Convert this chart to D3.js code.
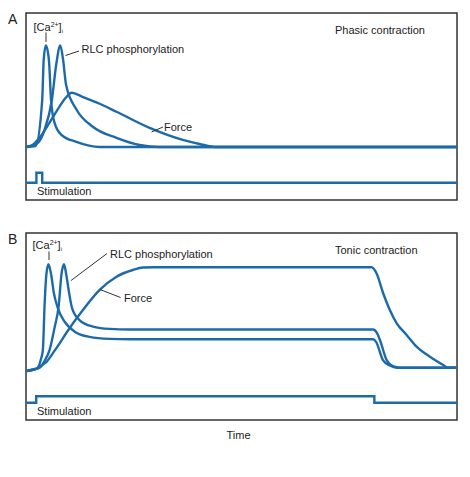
<!DOCTYPE html>
<html>
<head>
<meta charset="utf-8">
<script src="https://cdn.jsdelivr.net/npm/d3@7"></script>
<style>
  body { margin: 0; background: #fff; }
  text { font-family: "Liberation Sans", Arial, sans-serif; fill: #222; }
</style>
</head>
<body>
<div id="my_dataviz"></div>
<script>
// time runs 0..100, level is percent of the peak above the resting baseline
var phasicCa = [[0,0],[2.1,1],[3.65,46.5],[4.0,86],[4.5,100],[5.2,86],[5.7,46.5],[6.5,24],[8.1,12],[11.6,5],[17,0],[100,0]];
var phasicRlc = [[0,0],[2.6,4],[4.2,17],[5.9,46.5],[6.9,81],[7.85,100],[8.5,86],[9.2,61],[11.6,37],[15.4,20],[20.9,9],[26.3,2],[30.9,0],[100,0]];
var phasicForce = [[0,0],[1.4,2],[3.0,9],[5.35,24],[7.7,40],[9.1,48.5],[10.5,53.5],[13.0,49.5],[17.0,42.6],[20.9,34.7],[28.6,18.8],[36.3,7],[40.2,3],[44.2,0],[100,0]];
var phasicStim = [[0,0],[2.3,1],[3.65,0],[100,0]];

var tonicCa = [[0,-3.2],[1.9,-1.7],[2.6,-0.3],[3.3,7.4],[3.8,17],[4.2,60.6],[4.6,89.6],[5.1,100],[5.75,89.6],[6.3,73.5],[7.3,57.4],[8.85,44.5],[11.2,34.8],[14.65,29.8],[19.3,27.9],[24,27.5],[80.5,27.5],[81.2,25],[82.8,7.4],[84.4,2.1],[86.05,0],[100,0]];
var tonicRlc = [[0,-3.2],[1.9,-1.3],[3.0,-0.3],[4.2,6.5],[5.35,17],[6.5,38.4],[7.5,60.6],[8.1,89.6],[8.7,100],[9.25,89.6],[9.85,73.5],[10.6,57.4],[12.3,46.1],[15.4,39.8],[19.3,37.5],[24,37],[80.5,37],[81.4,33.6],[82.1,26.8],[83.65,7.4],[85.1,1.6],[87.2,0],[100,0]];
var tonicForce = [[0,-3.2],[1.9,-1.7],[3.0,1],[4.65,5.5],[6.1,13.9],[7.7,23.5],[9.2,33.3],[13.1,55.8],[17.0,75.2],[20.9,88],[24.7,94.5],[27.05,96.9],[29.8,97.1],[80.15,97.1],[81.3,91.3],[82.85,72],[84.4,55.8],[86.0,42.9],[88.3,31.6],[90.6,20.3],[93.7,10.6],[96.8,2.6],[97.9,0],[100,0]];
var tonicStim = [[0,0],[2.26,1],[80.8,0],[100,0]];

var panelLetters = ["A", "B"];
var panelTitles = ["Phasic contraction", "Tonic contraction"];

var W = 470, H = 477;
var blue = "#1d6aa9";

var svg = d3.select("#my_dataviz")
    .append("svg")
    .attr("width", W)
    .attr("height", H);

// 兩個面板的位置
var panels = [
    { top: 13, base: 147, peak: 45.5, stimLow: 182.7, stimHigh: 172.7,
      ca: phasicCa, rlc: phasicRlc, force: phasicForce, stim: phasicStim },
    { top: 233, base: 367.7, peak: 264.3, stimLow: 402.7, stimHigh: 396.3,
      ca: tonicCa, rlc: tonicRlc, force: tonicForce, stim: tonicStim }
];

var x = d3.scaleLinear().domain([0, 100]).range([26.5, 457]);

panels.forEach(function(p, i) {
    var g = svg.append("g");

    var y = d3.scaleLinear().domain([0, 100]).range([p.base, p.peak]);
    var ys = d3.scaleLinear().domain([0, 1]).range([p.stimLow, p.stimHigh]);

    var line = d3.line()
        .x(d => x(d[0]))
        .y(d => y(d[1]))
        .curve(d3.curveMonotoneX);

    var stimLine = d3.line()
        .x(d => x(d[0]))
        .y(d => ys(d[1]))
        .curve(d3.curveStepAfter);

    // frame
    g.append("rect")
        .attr("x", 26)
        .attr("y", p.top)
        .attr("width", 431)
        .attr("height", 187)
        .attr("fill", "none")
        .attr("stroke", "#333")
        .attr("stroke-width", 1.5);

    [p.force, p.rlc, p.ca].forEach(function(s) {
        g.append("path")
            .datum(s)
            .attr("d", line)
            .attr("fill", "none")
            .attr("stroke", blue)
            .attr("stroke-width", 2.4)
            .attr("stroke-linejoin", "round");
    });

    g.append("path")
        .datum(p.stim)
        .attr("d", stimLine)
        .attr("fill", "none")
        .attr("stroke", blue)
        .attr("stroke-width", 2.4);

    // 標籤
    g.append("text")
        .attr("x", 8)
        .attr("y", p.top + 11)
        .style("font-size", "14px")
        .text(panelLetters[i]);

    g.append("text")
        .attr("x", 335)
        .attr("y", p.top + 20.5)
        .style("font-size", "11px")
        .text(panelTitles[i]);

    g.append("text")
        .attr("x", 37)
        .attr("y", p.top + 182)
        .style("font-size", "11px")
        .text("Stimulation");
});

// panel A annotations
var caA = svg.append("text").attr("x", 33.5).attr("y", 30.5).style("font-size", "11px");
caA.append("tspan").text("[Ca");
caA.append("tspan").attr("dy", -4).style("font-size", "7px").text("2+");
caA.append("tspan").attr("dy", 4).text("]");
caA.append("tspan").attr("dy", 2.5).style("font-size", "6px").text("i");

svg.append("line").attr("x1", 46).attr("x2", 46).attr("y1", 32.5).attr("y2", 42)
    .attr("stroke", "#333").attr("stroke-width", 1);

svg.append("text").attr("x", 81.5).attr("y", 53).style("font-size", "11px").text("RLC phosphorylation");
svg.append("line").attr("x1", 65.5).attr("y1", 55.5).attr("x2", 79).attr("y2", 51)
    .attr("stroke", "#333").attr("stroke-width", 1);

svg.append("text").attr("x", 164).attr("y", 131).style("font-size", "11px").text("Force");
svg.append("line").attr("x1", 151.5).attr("y1", 132).attr("x2", 163).attr("y2", 127)
    .attr("stroke", "#333").attr("stroke-width", 1);

// panel B annotations
var caB = svg.append("text").attr("x", 32.5).attr("y", 248.5).style("font-size", "11px");
caB.append("tspan").text("[Ca");
caB.append("tspan").attr("dy", -4).style("font-size", "7px").text("2+");
caB.append("tspan").attr("dy", 4).text("]");
caB.append("tspan").attr("dy", 2.5).style("font-size", "6px").text("i");

svg.append("line").attr("x1", 49).attr("x2", 49).attr("y1", 251.5).attr("y2", 260)
    .attr("stroke", "#333").attr("stroke-width", 1);

svg.append("text").attr("x", 110).attr("y", 257.5).style("font-size", "11px").text("RLC phosphorylation");
svg.append("line").attr("x1", 71).attr("y1", 280.5).attr("x2", 107).attr("y2", 253.5)
    .attr("stroke", "#333").attr("stroke-width", 1);

svg.append("text").attr("x", 124).attr("y", 301.5).style("font-size", "11px").text("Force");
svg.append("line").attr("x1", 100).attr("y1", 289.5).attr("x2", 120.5).attr("y2", 297.5)
    .attr("stroke", "#333").attr("stroke-width", 1);

svg.append("text")
    .attr("x", 238.5)
    .attr("y", 438.5)
    .attr("text-anchor", "middle")
    .style("font-size", "11px")
    .text("Time");
</script>
</body>
</html>
